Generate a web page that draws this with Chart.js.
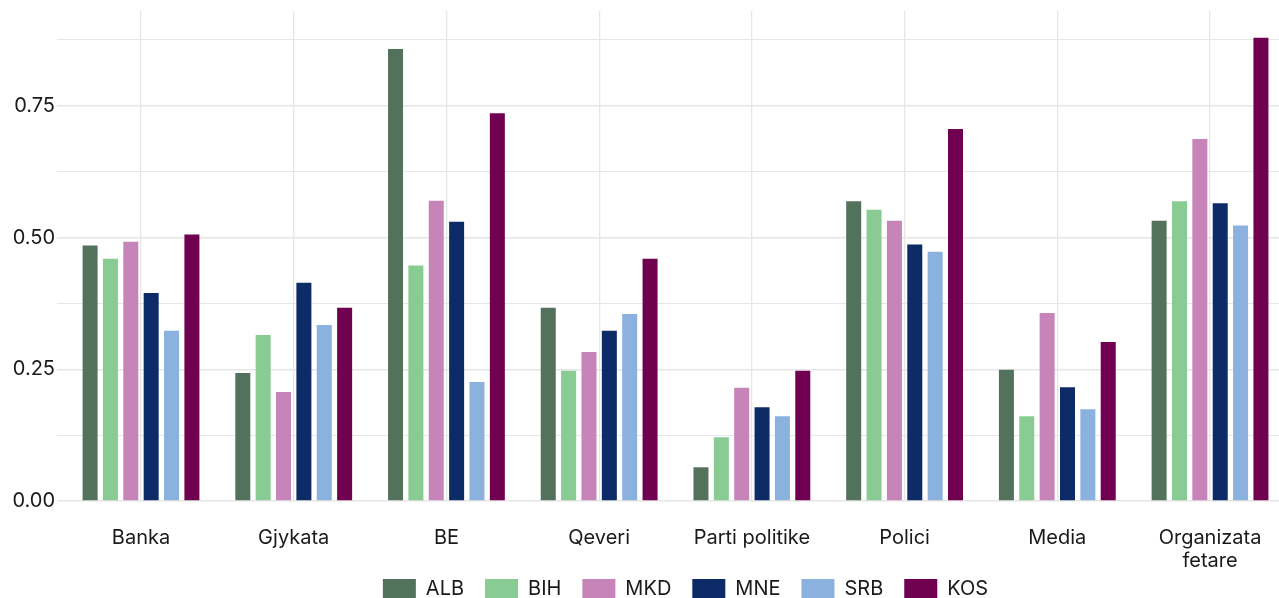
<!DOCTYPE html>
<html>
<head>
<meta charset="utf-8">
<script src="https://cdn.jsdelivr.net/npm/chart.js@4"></script>
<style>
  html, body { margin:0; padding:0; background:#fff; overflow:hidden; }
  #wrap { position:relative; width:1279px; height:598px; overflow:hidden; }
  #chart { position:absolute; left:0; top:0; }
</style>
</head>
<body>
<div id="wrap"><canvas id="chart" width="1371" height="629"></canvas></div>
<script>
// --- Data ---
const categories = ['Banka', 'Gjykata', 'BE', 'Qeveri', 'Parti politike', 'Polici', 'Media', ['Organizata', 'fetare']];
const yTickLabels = ['0.00', '0.25', '0.50', '0.75'];

const ALB = [0.485, 0.243, 0.858, 0.367, 0.064, 0.569, 0.249, 0.532];
const BIH = [0.460, 0.315, 0.447, 0.247, 0.121, 0.553, 0.161, 0.569];
const MKD = [0.492, 0.207, 0.570, 0.283, 0.215, 0.532, 0.357, 0.687];
const MNE = [0.395, 0.414, 0.530, 0.323, 0.178, 0.487, 0.216, 0.565];
const SRB = [0.323, 0.334, 0.226, 0.355, 0.161, 0.473, 0.174, 0.523];
const KOS = [0.506, 0.367, 0.736, 0.460, 0.247, 0.706, 0.302, 0.879];

const seriesNames = ['ALB', 'BIH', 'MKD', 'MNE', 'SRB', 'KOS'];
const seriesValues = [ALB, BIH, MKD, MNE, SRB, KOS];
const seriesColors = ['#53725c', '#88cc94', '#c784b8', '#0c2b67', '#8bb2df', '#700050'];

// --- Helpers ---
const textColor = '#1a1a1a';
const gridColor = '#e6e6e6';
const isStep = (v, s) => Math.abs(v / s - Math.round(v / s)) < 1e-6;

const datasets = seriesNames.map((name, k) => ({
  label: name,
  data: seriesValues[k].map((v, i) => ({ x: i, y: v })),
  backgroundColor: seriesColors[k],
  borderWidth: 0,
  categoryPercentage: 0.8,
  barPercentage: 0.737
}));

// the legend sits a little into the x axis band, like the original
const legendShift = {
  id: 'legendShift',
  afterLayout(chart) {
    chart.legend.top -= 20;
    chart.legend.bottom -= 20;
  }
};

Chart.defaults.font.family = 'Inter, "DejaVu Sans", sans-serif';
Chart.defaults.color = textColor;

new Chart(document.getElementById('chart'), {
  type: 'bar',
  data: { datasets },
  plugins: [legendShift],
  options: {
    responsive: false,
    animation: false,
    layout: { padding: { top: 11, right: 0, left: 0, bottom: 0 } },
    plugins: {
      tooltip: { enabled: false },
      legend: {
        position: 'bottom',
        labels: {
          boxWidth: 33,
          boxHeight: 20,
          padding: 21,
          font: { size: 20 },
          color: textColor
        }
      }
    },
    scales: {
      x: {
        type: 'linear',
        offset: false,
        min: -0.55,
        max: 8.054,
        afterBuildTicks: s => { s.ticks = categories.map((c, i) => ({ value: i })); },
        afterFit: s => { s.height = 77; },
        ticks: {
          autoSkip: false,
          maxRotation: 0,
          padding: 25,
          font: { size: 20, lineHeight: 1.15 },
          color: textColor,
          callback: v => categories[Math.round(v)] || ''
        },
        grid: { offset: false, color: gridColor, lineWidth: 1.3, drawTicks: false },
        border: { display: false }
      },
      y: {
        min: 0,
        max: 0.93,
        afterBuildTicks: s => { s.ticks = s.ticks.filter(t => isStep(t.value, 0.125)); },
        afterFit: s => { s.width = 57; s.paddingTop = 0; s.paddingBottom = 0; },
        ticks: {
          stepSize: 0.125,
          padding: 2,
          font: { size: 20 },
          color: textColor,
          callback: v => isStep(v, 0.25) ? yTickLabels[Math.round(v / 0.25)] : ''
        },
        grid: {
          drawTicks: false,
          color: gridColor,
          lineWidth: ctx => isStep(ctx.tick.value, 0.25) ? 1.5 : 1
        },
        border: { display: false }
      }
    }
  }
});
</script>
</body>
</html>
